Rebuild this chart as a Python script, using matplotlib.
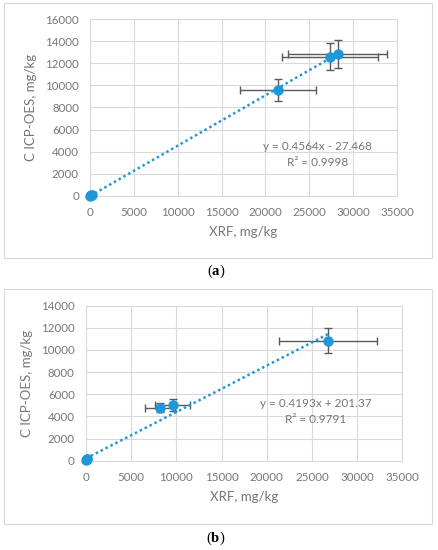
import numpy as np
import matplotlib as mpl

mpl.use("Agg")
import matplotlib.pyplot as plt
from matplotlib.patches import Rectangle

plt.rcParams["font.family"] = ["Lato", "DejaVu Sans"]
plt.rcParams["mathtext.fontset"] = "custom"
plt.rcParams["mathtext.rm"] = "Liberation Serif"
plt.rcParams["mathtext.bf"] = "Liberation Serif:bold"

# panel (a) data
a_x = [30, 120, 250, 21450, 27390, 28240]
a_y = [10, 40, 80, 9590, 12610, 12830]
a_xerr = [0, 0, 0, 4330, 5480, 5630]
a_yerr = [0, 0, 0, 985, 1240, 1285]
a_slope, a_icpt = 0.4564, -27.468
a_eq = "y = 0.4564x - 27.468"
a_r2 = "R² = 0.9998"

# panel (b) data
b_x = [30, 60, 100, 8190, 9600, 26810]
b_y = [100, 140, 170, 4790, 5030, 10840]
b_xerr = [0, 0, 0, 1660, 1950, 5400]
b_yerr = [0, 0, 0, 425, 515, 1100]
b_slope, b_icpt = 0.4193, 201.37
b_eq = "y = 0.4193x + 201.37"
b_r2 = "R² = 0.9791"

x_ticks = np.arange(0, 35001, 5000)
a_yticks = np.arange(0, 16001, 2000)
b_yticks = np.arange(0, 14001, 2000)

BLUE = "#1F97DA"
EBAR = "#595959"
TXT = "#767676"
GRID = "#D9D9D9"

fig = plt.figure(figsize=(4.38, 5.5), dpi=100)

# panel frames
for y0, h in [(0.5309, 0.4636), (0.0473, 0.4272)]:
    fig.patches.append(Rectangle((0.008, y0), 0.978, h, transform=fig.transFigure,
                                 fill=False, edgecolor=GRID, linewidth=0.8))


def panel(rect, xs, ys, xerr, yerr, slope, icpt, eq, r2, yticks, txt_xy):
    ax = fig.add_axes(rect)
    ax.errorbar(xs, ys, xerr=xerr, yerr=yerr, fmt="none", ecolor=EBAR,
                elinewidth=1.0, capsize=3, capthick=1.0, zorder=2)
    ax.plot(xs, ys, "o", color=BLUE, markersize=6.5, zorder=3, clip_on=False)
    xl = np.array([0, max(xs)])
    ax.plot(xl, slope * xl + icpt, linestyle=(0, (1, 1.2)), color=BLUE,
            linewidth=1.8, zorder=2.5)
    ax.set_xlim(0, 35000)
    ax.set_ylim(0, yticks[-1])
    ax.set_xticks(x_ticks)
    ax.set_yticks(yticks)
    ax.grid(True, color=GRID, linewidth=0.8)
    ax.set_axisbelow(True)
    for s in ax.spines.values():
        s.set_color(GRID)
        s.set_linewidth(0.8)
    ax.tick_params(length=0, labelsize=8.3, colors=TXT, pad=8)
    ax.set_xlabel("XRF, mg/kg", fontsize=9.5, color=TXT, labelpad=6)
    ax.set_ylabel("C ICP-OES, mg/kg", fontsize=9.5, color=TXT, labelpad=6)
    ax.text(txt_xy[0], txt_xy[1], eq, ha="center", va="center",
            fontsize=8.5, color=TXT)
    ax.text(txt_xy[0], txt_xy[2], r2, ha="center", va="center",
            fontsize=8.5, color=TXT)
    return ax


panel([0.2055, 0.6442, 0.7009, 0.3207], a_x, a_y, a_xerr, a_yerr,
      a_slope, a_icpt, a_eq, a_r2, a_yticks, (25940, 4444, 2966))
panel([0.1963, 0.1624, 0.7222, 0.2818], b_x, b_y, b_xerr, b_yerr,
      b_slope, b_icpt, b_eq, b_r2, b_yticks, (25430, 5185, 3676))

fig.text(0.493, 1 - 271 / 550, r"($\mathbf{a}$)", ha="center", va="center",
         fontsize=10.5, family="Liberation Serif")
fig.text(0.493, 1 - 538 / 550, r"($\mathbf{b}$)", ha="center", va="center",
         fontsize=10.5, family="Liberation Serif")

fig.savefig("out.png", dpi=100)
